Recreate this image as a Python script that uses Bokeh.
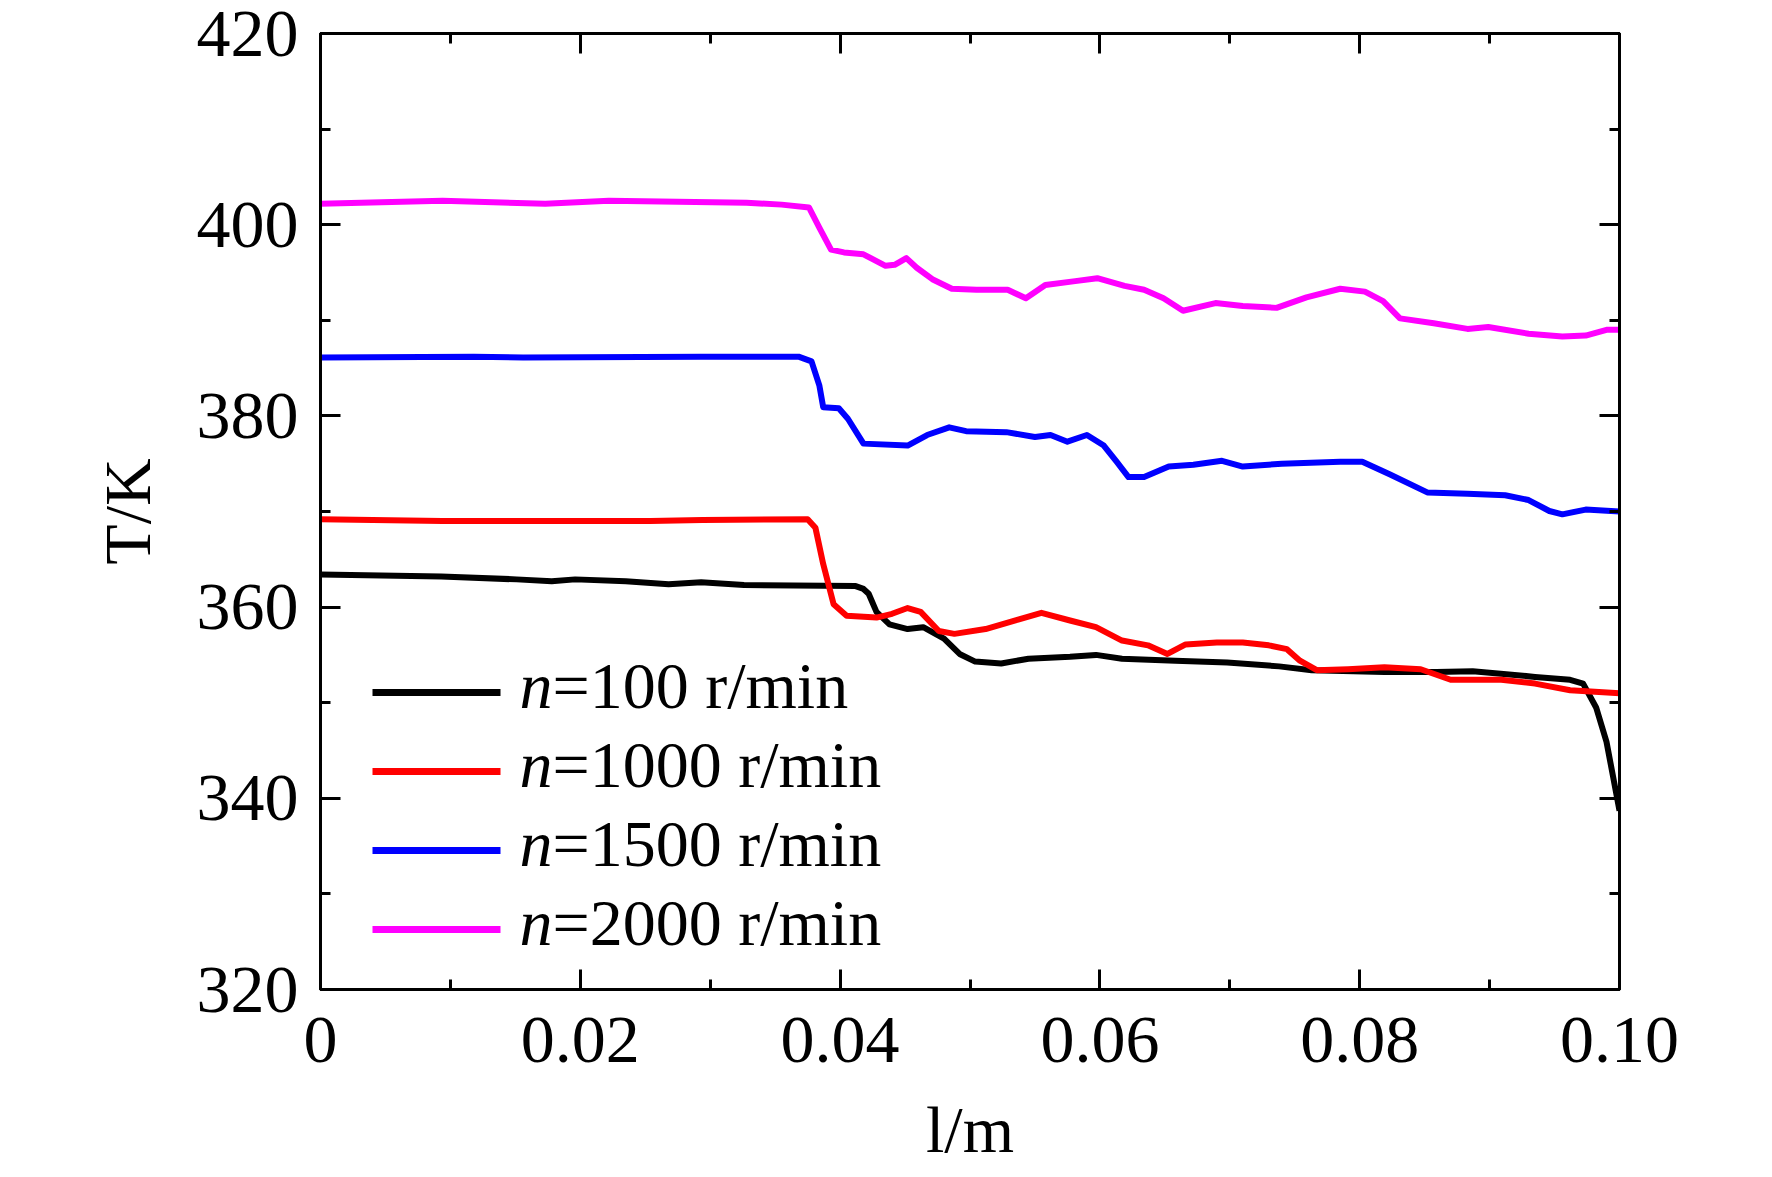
from bokeh.plotting import figure
from bokeh.models import (FixedTicker, LinearAxis, CustomJSTickFormatter,
                          Label, BoxAnnotation)
from bokeh.embed import file_html
from bokeh.resources import INLINE

# Data: position l (m) and temperature T (K)
l_100 = [0, 0.0093, 0.0151, 0.0178, 0.0196, 0.0235, 0.0268, 0.0293, 0.0326, 0.0412,
         0.0418, 0.0422, 0.0428, 0.0438, 0.0452, 0.0464, 0.048, 0.0492, 0.0504, 0.0524,
         0.0545, 0.0577, 0.0597, 0.0617, 0.0658, 0.0698, 0.0738, 0.0763, 0.0819, 0.0859,
         0.0887, 0.0935, 0.0962, 0.0972, 0.0982, 0.099, 0.0995, 0.1]
T_100 = [363.4, 363.2, 362.9, 362.7, 362.9, 362.7, 362.4, 362.6, 362.3, 362.2,
         361.9, 361.4, 359.5, 358.2, 357.7, 357.9, 356.7, 355.1, 354.3, 354.1,
         354.6, 354.8, 355.0, 354.6, 354.4, 354.2, 353.8, 353.4, 353.2, 353.2,
         353.3, 352.7, 352.4, 352.0, 349.5, 345.9, 342.3, 338.7]

l_1000 = [0, 0.0094, 0.015, 0.0254, 0.0294, 0.0375, 0.0381, 0.0387, 0.0395, 0.0405,
          0.0428, 0.044, 0.0452, 0.0462, 0.0476, 0.0488, 0.0512, 0.0537, 0.0555, 0.0577,
          0.0597, 0.0617, 0.0637, 0.0652, 0.0666, 0.069, 0.071, 0.073, 0.0744, 0.0754,
          0.0767, 0.0791, 0.0819, 0.0847, 0.087, 0.0909, 0.0935, 0.0962, 0.1]
T_1000 = [369.2, 369.0, 369.0, 369.0, 369.1, 369.2, 368.3, 364.5, 360.3, 359.1,
          358.9, 359.3, 359.9, 359.5, 357.5, 357.2, 357.7, 358.7, 359.4, 358.6,
          357.9, 356.5, 356.0, 355.1, 356.1, 356.3, 356.3, 356.0, 355.6, 354.4,
          353.4, 353.5, 353.7, 353.5, 352.4, 352.4, 352.0, 351.3, 351.0]

l_1500 = [0, 0.0118, 0.0156, 0.0293, 0.0368, 0.0378, 0.0384, 0.0387, 0.0399, 0.0406,
          0.0418, 0.0452, 0.0467, 0.0484, 0.0497, 0.0528, 0.055, 0.0562, 0.0575, 0.059,
          0.0603, 0.0613, 0.0622, 0.0634, 0.0653, 0.0672, 0.0694, 0.071, 0.074, 0.0785,
          0.0802, 0.0823, 0.0852, 0.0883, 0.0912, 0.093, 0.0946, 0.0956, 0.0974, 0.1]
T_1500 = [386.1, 386.2, 386.1, 386.2, 386.2, 385.7, 383.2, 380.9, 380.8, 379.7,
          377.1, 376.9, 378.0, 378.8, 378.4, 378.3, 377.8, 378.0, 377.3, 378.0,
          376.9, 375.2, 373.6, 373.6, 374.7, 374.9, 375.3, 374.7, 375.0, 375.2,
          375.2, 373.9, 372.0, 371.85, 371.7, 371.2, 370.05, 369.7, 370.2, 370.0]

l_2000 = [0, 0.0094, 0.0173, 0.0222, 0.0328, 0.0355, 0.0376, 0.0384, 0.0393, 0.0403,
          0.0418, 0.0435, 0.0442, 0.0451, 0.0459, 0.0471, 0.0486, 0.0505, 0.0529, 0.0543,
          0.0558, 0.0581, 0.0598, 0.0619, 0.0634, 0.0649, 0.0664, 0.0689, 0.071, 0.0736,
          0.0759, 0.0785, 0.0804, 0.0818, 0.0831, 0.0857, 0.0883, 0.0899, 0.093, 0.0956,
          0.0974, 0.099, 0.1]
T_2000 = [402.2, 402.5, 402.2, 402.5, 402.3, 402.1, 401.8, 399.7, 397.4, 397.1,
          396.9, 395.7, 395.8, 396.5, 395.5, 394.3, 393.3, 393.2, 393.2, 392.3,
          393.7, 394.1, 394.4, 393.6, 393.2, 392.3, 391.0, 391.8, 391.5, 391.3,
          392.4, 393.3, 393.0, 392.0, 390.2, 389.7, 389.1, 389.3, 388.6, 388.3,
          388.4, 389.0, 389.0]

speeds = ["100", "1000", "1500", "2000"]
colors = ["black", "#ff0000", "#0000ff", "#ff00ff"]
series = [(l_100, T_100), (l_1000, T_1000), (l_1500, T_1500), (l_2000, T_2000)]

x_major = [0, 0.02, 0.04, 0.06, 0.08, 0.1]
x_minor = [0.01, 0.03, 0.05, 0.07, 0.09]
y_major = [320, 340, 360, 380, 400, 420]
y_minor = [330, 350, 370, 390, 410]

FONT = "Liberation Serif"

p = figure(width=1764, height=1169, x_range=(0, 0.1), y_range=(320, 420),
           output_backend="svg", toolbar_location=None,
           min_border_left=320, min_border_right=145,
           min_border_top=33, min_border_bottom=180)
p.xgrid.grid_line_color = None
p.ygrid.grid_line_color = None
p.outline_line_color = "black"
p.outline_line_width = 3
p.background_fill_color = "white"

for (xs, ys), c in zip(series, colors):
    p.line(xs, ys, color=c, line_width=6, line_join="round")

xticker = FixedTicker(ticks=x_major, minor_ticks=x_minor)
yticker = FixedTicker(ticks=y_major, minor_ticks=y_minor)


def style_axis(ax):
    ax.axis_line_color = "black"
    ax.axis_line_width = 3
    ax.major_tick_line_width = 3
    ax.minor_tick_line_width = 3
    ax.major_tick_in = 20
    ax.major_tick_out = 0
    ax.minor_tick_in = 10
    ax.minor_tick_out = 0
    ax.major_label_text_font = FONT
    ax.major_label_text_color = "black"
    ax.major_label_text_font_size = "68px"
    ax.axis_label_text_font = FONT
    ax.axis_label_text_font_size = "66px"
    ax.axis_label_text_font_style = "normal"
    ax.axis_label_text_color = "black"


p.xaxis.ticker = xticker
p.xaxis.formatter = CustomJSTickFormatter(code="return tick == 0 ? '0' : tick.toFixed(2);")
p.yaxis.ticker = yticker
style_axis(p.xaxis[0])
style_axis(p.yaxis[0])
p.xaxis.major_label_standoff = 28
p.yaxis.major_label_standoff = 22
p.xaxis.axis_label = "l/m"
p.yaxis.axis_label = "T/K"
p.xaxis.axis_label_standoff = 28
p.yaxis.axis_label_standoff = 30

# mirrored ticks on top and right, without labels
blank = CustomJSTickFormatter(code="return '';")
for tk, side in ((xticker, "above"), (yticker, "right")):
    ax = LinearAxis(ticker=tk, formatter=blank)
    style_axis(ax)
    ax.major_label_text_font_size = "1px"
    ax.major_label_standoff = 0
    p.add_layout(ax, side)

# legend
rows = [297, 218, 139, 60]
for row, c, s in zip(rows, colors, speeds):
    p.add_layout(BoxAnnotation(left=52, right=180, bottom=row - 3.5, top=row + 3.5,
                               left_units="screen", right_units="screen",
                               bottom_units="screen", top_units="screen",
                               fill_color=c, fill_alpha=1, line_color=None))
    p.add_layout(Label(x=199, y=row + 7, x_units="screen", y_units="screen", text="n",
                       text_font=FONT, text_font_size="66px", text_font_style="italic",
                       text_color="black", text_baseline="alphabetic"))
    p.add_layout(Label(x=232, y=row + 7, x_units="screen", y_units="screen",
                       text="=" + s + " r/min", text_font=FONT, text_font_size="66px",
                       text_color="black", text_baseline="alphabetic"))

open("out.html", "w").write(file_html(p, INLINE))
